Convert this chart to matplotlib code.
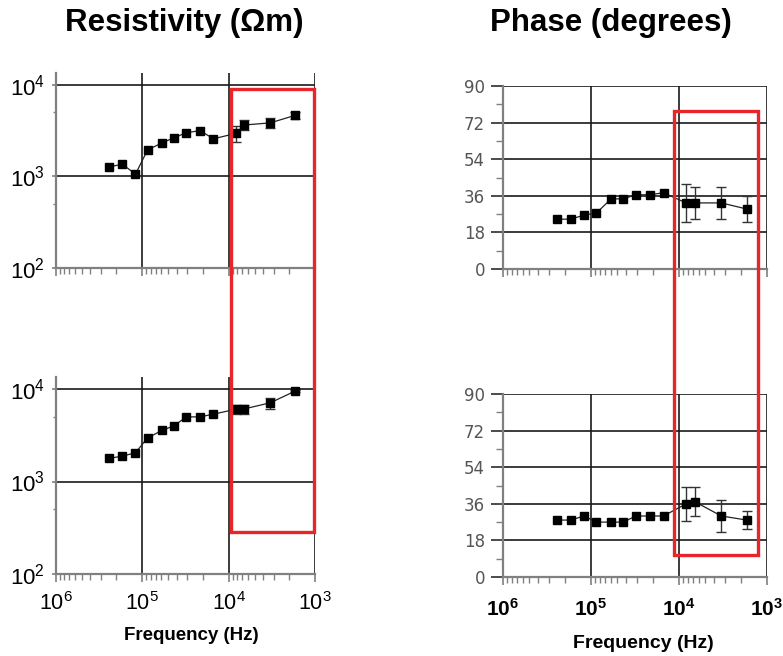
import numpy as np
import matplotlib
matplotlib.use("Agg")
import matplotlib.pyplot as plt
from matplotlib.patches import Rectangle
from matplotlib.ticker import LogLocator, FixedLocator, NullFormatter, FixedFormatter

plt.rcParams['font.family'] = ['Liberation Sans', 'DejaVu Sans']
plt.rcParams['mathtext.fontset'] = 'custom'
plt.rcParams['mathtext.rm'] = 'Liberation Sans'
plt.rcParams['mathtext.bf'] = 'Liberation Sans:bold'

# ---------------- data ----------------
freq = [2.45e5, 1.70e5, 1.20e5, 8.7e4, 5.9e4, 4.3e4, 3.1e4, 2.15e4, 1.5e4,
        8.3e3, 6.6e3, 3.3e3, 1.7e3]
res_top = [1.27e3, 1.36e3, 1.06e3, 1.95e3, 2.33e3, 2.65e3, 3.0e3, 3.17e3, 2.58e3,
           2.95e3, 3.65e3, 3.85e3, 4.65e3]
res_top_err = [0, 0, 0, 0, 0, 0, 0, 0, 0, 600, 450, 500, 450]
res_bot = [1.78e3, 1.88e3, 2.05e3, 2.96e3, 3.58e3, 4.0e3, 5.0e3, 5.0e3, 5.35e3,
           6.05e3, 6.1e3, 7.1e3, 9.5e3]
res_bot_err = [0, 0, 0, 0, 0, 0, 0, 0, 0, 700, 700, 1000, 300]
phase_top = [24.5, 24.5, 26.5, 27.5, 34.5, 34.5, 36.5, 36.5, 37.5,
             32.5, 32.5, 32.5, 29.5]
phase_top_err = [0, 0, 0, 0, 0, 0, 0, 0, 0, 9.2, 7.8, 7.7, 6.4]
phase_bot = [28, 28, 30, 27, 27, 27, 30, 30, 30, 36, 37, 30, 28]
phase_bot_err = [0, 0, 0, 0, 0, 0, 0, 0, 0, 8.5, 7.2, 7.7, 4.5]

res_yticks = [1e2, 1e3, 1e4]
res_ylabels = [r'$10^{2}$', r'$10^{3}$', r'$10^{4}$']
phase_yticks = [0, 18, 36, 54, 72, 90]
x_ticks = [1e6, 1e5, 1e4, 1e3]
x_labels_left = [r'$10^{6}$', r'$10^{5}$', r'$10^{4}$', r'$10^{3}$']
x_labels_right = [r'$\mathbf{10^{6}}$', r'$\mathbf{10^{5}}$', r'$\mathbf{10^{4}}$', r'$\mathbf{10^{3}}$']

# highlight boxes: (f_left, f_right, y_top in top panel, y_bottom in bottom panel)
res_box = (9.5e3, 1.02e3, 9.0e3, 284)
phase_box = (1.14e4, 1.27e3, 77.7, 10.7)

W, H = 783, 656
fig = plt.figure(figsize=(W / 100, H / 100), dpi=100)


def px_axes(l, r, t, b):
    return fig.add_axes([l / W, 1 - b / H, (r - l) / W, (b - t) / H])


GRID = '#1a1a1a'
SPINE = '#808080'


def style_common(ax):
    ax.set_xscale('log')
    ax.set_xlim(1e6, 1e3)
    ax.xaxis.set_major_locator(FixedLocator(x_ticks))
    ax.xaxis.set_minor_locator(LogLocator(base=10, subs=np.arange(2, 10)))
    ax.xaxis.set_minor_formatter(NullFormatter())
    for s in ['top', 'right']:
        ax.spines[s].set_visible(False)
    for s in ['left', 'bottom']:
        ax.spines[s].set_color(SPINE)
        ax.spines[s].set_linewidth(1.6)
    ax.tick_params(axis='x', which='major', direction='out', length=6, width=1.2,
                   color=SPINE, pad=4)
    ax.tick_params(axis='x', which='minor', direction='out', length=4, width=1.0,
                   color=SPINE)
    ax.grid(True, which='major', color=GRID, linewidth=1.2)
    ax.set_axisbelow(True)


def draw_series(ax, y, err):
    y = np.asarray(y, dtype=float)
    err = np.asarray(err, dtype=float)
    f = np.asarray(freq)
    ax.plot(f, y, color='#222222', linewidth=0.9, marker='s', markersize=6,
            markerfacecolor='black', markeredgecolor='black', zorder=4, clip_on=False)
    m = err > 0
    ax.errorbar(f[m], y[m], yerr=err[m], fmt='none', ecolor='#333333',
                elinewidth=1.0, capsize=3.4, capthick=1.0, zorder=3, clip_on=False)


def style_res(ax, bottom_row):
    style_common(ax)
    ax.set_yscale('log')
    ax.set_ylim(1e2, 1.35e4)
    ax.yaxis.set_major_locator(FixedLocator(res_yticks))
    ax.yaxis.set_major_formatter(FixedFormatter(res_ylabels))
    ax.yaxis.set_minor_locator(FixedLocator([5e2, 5e3]))
    ax.yaxis.set_minor_formatter(NullFormatter())
    ax.tick_params(axis='y', which='major', direction='out', length=3, width=1.2,
                   color=SPINE, labelsize=16, pad=5)
    ax.tick_params(axis='y', which='minor', direction='out', length=2.5, width=1.0,
                   color=SPINE)
    if bottom_row:
        ax.xaxis.set_major_formatter(FixedFormatter(x_labels_left))
        ax.tick_params(axis='x', which='major', labelsize=15.5, pad=7)
    else:
        ax.tick_params(axis='x', which='major', labelbottom=False)


def style_phase(ax, bottom_row):
    style_common(ax)
    ax.set_ylim(0, 90)
    ax.yaxis.set_major_locator(FixedLocator(phase_yticks))
    ax.yaxis.set_minor_locator(FixedLocator([9, 27, 45, 63, 81]))
    ax.tick_params(axis='y', which='major', direction='out', length=9, width=1.1,
                   color=GRID, labelsize=12, labelcolor='#555555', pad=4,
                   labelfontfamily='DejaVu Sans')
    ax.tick_params(axis='y', which='minor', direction='out', length=5, width=1.0,
                   color=SPINE)
    if bottom_row:
        ax.xaxis.set_major_formatter(FixedFormatter(x_labels_right))
        ax.tick_params(axis='x', which='major', labelsize=15, pad=9)
    else:
        ax.tick_params(axis='x', which='major', labelbottom=False)


ax_tl = px_axes(56, 315, 73, 268)
ax_bl = px_axes(56, 315, 377, 574)
ax_tr = px_axes(503, 767, 86, 269)
ax_br = px_axes(503, 767, 394, 577)

style_res(ax_tl, False)
style_res(ax_bl, True)
style_phase(ax_tr, False)
style_phase(ax_br, True)

draw_series(ax_tl, res_top, res_top_err)
draw_series(ax_bl, res_bot, res_bot_err)
draw_series(ax_tr, phase_top, phase_top_err)
draw_series(ax_br, phase_bot, phase_bot_err)

# titles and axis labels
fig.text(184 / W, 1 - 23 / H, 'Resistivity (\u03a9m)', ha='center', va='center',
         fontsize=22.5, fontweight='bold')
fig.text(611 / W, 1 - 23 / H, 'Phase (degrees)', ha='center', va='center',
         fontsize=22.5, fontweight='bold')
fig.text(191 / W, 1 - 635 / H, 'Frequency (Hz)', ha='center', va='center',
         fontsize=13.5, fontweight='bold')
fig.text(643 / W, 1 - 643 / H, 'Frequency (Hz)', ha='center', va='center',
         fontsize=14, fontweight='bold')


def highlight(ax_top, ax_bot, box):
    f0, f1, ytop, ybot = box
    inv = fig.transFigure.inverted()
    x0, y0 = inv.transform(ax_top.transData.transform((f0, ytop)))
    x1, y1 = inv.transform(ax_bot.transData.transform((f1, ybot)))
    rect = Rectangle((x0, y1), x1 - x0, y0 - y1, transform=fig.transFigure,
                     fill=False, edgecolor='#e8252b', linewidth=2.4, zorder=10)
    fig.patches.append(rect)


highlight(ax_tl, ax_bl, res_box)
highlight(ax_tr, ax_br, phase_box)

fig.savefig('out.png', dpi=100)
